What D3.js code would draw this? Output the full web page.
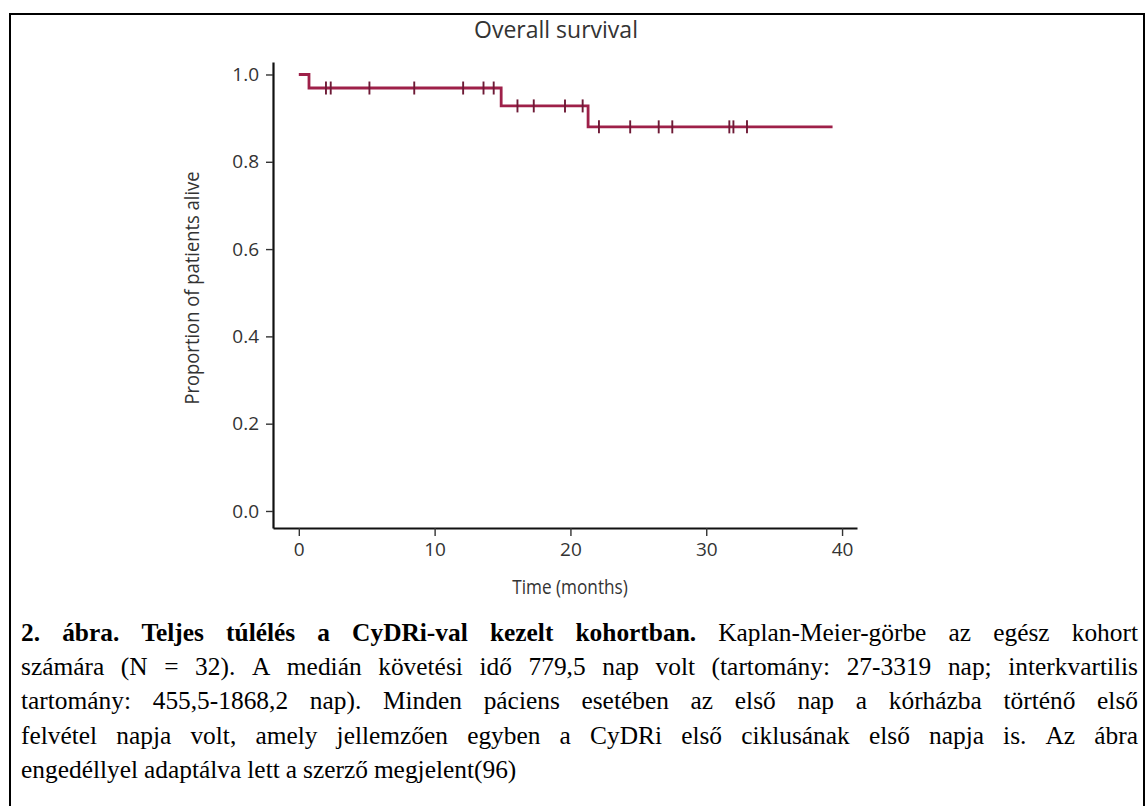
<!DOCTYPE html>
<html>
<head>
<meta charset="utf-8">
<script src="https://cdn.jsdelivr.net/npm/d3@7"></script>
<style>
body { margin: 0; background: #fff; }
svg { display: block; }
</style>
</head>
<body>
<script>
// Kaplan-Meier steps (months, proportion alive)
const stepTimes = [0, 0.75, 14.9, 21.3, 39.3];
const stepSurvival = [1.0, 0.969, 0.928, 0.880, 0.880];
// censored patients (months)
const censorTimes = [2.0, 2.35, 5.2, 8.5, 12.1, 13.6, 14.35, 16.1, 17.3, 19.6, 20.9,
                     22.1, 24.4, 26.5, 27.5, 31.7, 32.0, 33.0];
const yTicks = [0, 0.2, 0.4, 0.6, 0.8, 1.0];
const xTicks = [0, 10, 20, 30, 40];

const chartTitle = "Overall survival";
const xLabel = "Time (months)";
const yLabel = "Proportion of patients alive";

const captionBold = "2. ábra. Teljes túlélés a CyDRi-val kezelt kohortban.";
const captionLines = [
  "Kaplan-Meier-görbe az egész kohort",
  "számára (N = 32). A medián követési idő 779,5 nap volt (tartomány: 27-3319 nap; interkvartilis",
  "tartomány: 455,5-1868,2 nap). Minden páciens esetében az első nap a kórházba történő első",
  "felvétel napja volt, amely jellemzően egyben a CyDRi első ciklusának első napja is. Az ábra",
  "engedéllyel adaptálva lett a szerző megjelent(96)"
];

const w = 1147, h = 806;
const curveColor = "#9e2049";
const sansFont = "'Open Sans', 'Noto Sans', sans-serif";

const svg = d3.select("body").append("svg")
  .attr("width", w)
  .attr("height", h);

// frame
svg.append("path")
  .attr("d", "M10,806 V14 H1144 V806")
  .attr("fill", "none")
  .attr("stroke", "#000")
  .attr("stroke-width", 2);

const xScale = d3.scaleLinear().domain([-1.9, 41.1]).range([273, 857]);
const yScale = d3.scaleLinear().domain([-0.039, 1.0286]).range([528, 62]);

const xAxis = d3.axisBottom(xScale).tickValues(xTicks).tickSize(8).tickSizeOuter(0).tickPadding(7);
const yAxis = d3.axisLeft(yScale).tickValues(yTicks).tickSize(7).tickSizeOuter(0).tickPadding(7)
  .tickFormat(d3.format(".1f"));

const gx = svg.append("g")
  .attr("transform", "translate(0,528)")
  .call(xAxis);
const gy = svg.append("g")
  .attr("transform", "translate(273,0)")
  .call(yAxis);

[gx, gy].forEach(g => {
  g.select(".domain").attr("stroke", "#111").attr("stroke-width", 2.2);
  g.selectAll(".tick line").attr("stroke", "#333").attr("stroke-width", 1.4);
  g.selectAll(".tick text")
    .attr("fill", "#333")
    .style("font-family", sansFont)
    .style("font-size", "19px");
});

// title and axis labels
svg.append("text")
  .attr("x", 556).attr("y", 38)
  .attr("text-anchor", "middle")
  .attr("fill", "#333")
  .style("font-family", sansFont)
  .style("font-size", "23px")
  .text(chartTitle);

svg.append("text")
  .attr("transform", "translate(570,594) scale(0.86,1)")
  .attr("text-anchor", "middle")
  .attr("fill", "#333")
  .style("font-family", sansFont)
  .style("font-size", "20px")
  .text(xLabel);

svg.append("text")
  .attr("transform", "translate(199,288) rotate(-90) scale(0.92,1)")
  .attr("text-anchor", "middle")
  .attr("fill", "#333")
  .style("font-family", sansFont)
  .style("font-size", "20px")
  .text(yLabel);

// survival curve
const kmPoints = stepTimes.map((t, i) => [t, stepSurvival[i]]);
const line = d3.line()
  .x(d => xScale(d[0]))
  .y(d => yScale(d[1]))
  .curve(d3.curveStepAfter);

svg.append("path")
  .datum(kmPoints)
  .attr("d", line)
  .attr("fill", "none")
  .attr("stroke", curveColor)
  .attr("stroke-width", 2.8);

const survivalAt = t => stepSurvival[Math.max(0, d3.bisectRight(stepTimes, t) - 1)];

svg.selectAll("line.censor")
  .data(censorTimes)
  .enter()
  .append("line")
  .attr("class", "censor")
  .attr("x1", d => xScale(d))
  .attr("x2", d => xScale(d))
  .attr("y1", d => yScale(survivalAt(d)) - 6.5)
  .attr("y2", d => yScale(survivalAt(d)) + 6.5)
  .attr("stroke", "#6e1a36")
  .attr("stroke-width", 1.9);

// caption, justified like the source document
const capLeft = 21, capRight = 1138, capTop = 641, capStep = 34.2;
const capFont = "'Liberation Serif', 'Times New Roman', serif";
const capSize = "25.4px";

captionLines.forEach((txt, li) => {
  const words = [];
  if (li === 0) captionBold.split(" ").forEach(s => words.push({ s, bold: true }));
  txt.split(" ").forEach(s => words.push({ s, bold: false }));

  const y = capTop + li * capStep;
  const nodes = svg.selectAll(null)
    .data(words)
    .enter()
    .append("text")
    .attr("y", y)
    .attr("fill", "#000")
    .style("font-family", capFont)
    .style("font-size", capSize)
    .style("font-weight", d => d.bold ? "bold" : "normal")
    .text(d => d.s);

  const widths = nodes.nodes().map(n => n.getComputedTextLength());
  const total = d3.sum(widths);
  const last = li === captionLines.length - 1;
  const gap = last ? 6 : (capRight - capLeft - total) / (words.length - 1);
  let x = capLeft;
  nodes.each(function (d, i) {
    d3.select(this).attr("x", x);
    x += widths[i] + gap;
  });
});
</script>
</body>
</html>
